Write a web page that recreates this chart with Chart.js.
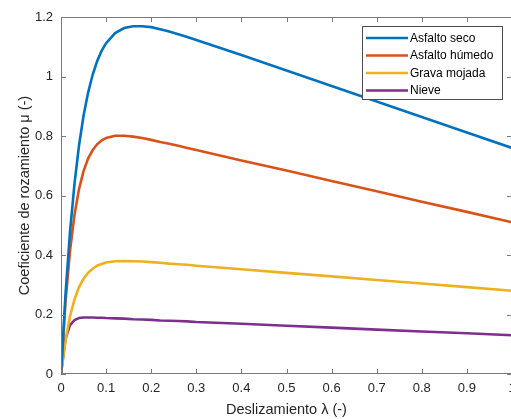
<!DOCTYPE html>
<html>
<head>
<meta charset="utf-8">
<script src="https://cdn.jsdelivr.net/npm/chart.js@4.4.1/dist/chart.umd.min.js"></script>
<style>
  html, body { margin: 0; padding: 0; background: #fff; overflow: hidden; }
  #chart { display: block; }
</style>
</head>
<body>
<canvas id="chart" width="522" height="419"></canvas>
<script>
// slip ratio (lambda) sample points
const slip = [0, 0.01, 0.02, 0.03, 0.04, 0.05, 0.06, 0.07, 0.08, 0.09, 0.10,
    0.12, 0.14, 0.16, 0.18, 0.20, 0.22, 0.24, 0.26, 0.28, 0.30,
    0.4, 0.5, 0.6, 0.7, 0.8, 0.9, 1.0];

const asfaltoSeco = [0, 0.268, 0.478, 0.641, 0.769, 0.868, 0.945, 1.005, 1.051, 1.086, 1.112,
    1.146, 1.163, 1.169, 1.169, 1.166, 1.159, 1.151, 1.142, 1.133, 1.123,
    1.072, 1.020, 0.968, 0.916, 0.864, 0.812, 0.760];
const asfaltoHumedo = [0, 0.243, 0.414, 0.536, 0.622, 0.682, 0.724, 0.752, 0.772, 0.785, 0.793,
    0.801, 0.801, 0.798, 0.793, 0.787, 0.780, 0.774, 0.767, 0.760, 0.753,
    0.718, 0.684, 0.649, 0.614, 0.579, 0.545, 0.510];
const gravaMojada = [0, 0.113, 0.194, 0.251, 0.292, 0.320, 0.340, 0.354, 0.364, 0.370, 0.375,
    0.379, 0.380, 0.379, 0.378, 0.376, 0.374, 0.371, 0.369, 0.367, 0.364,
    0.352, 0.340, 0.328, 0.316, 0.304, 0.292, 0.280];
const nieve = [0, 0.118, 0.164, 0.181, 0.188, 0.190, 0.190, 0.190, 0.189, 0.189, 0.188,
    0.187, 0.186, 0.184, 0.183, 0.182, 0.180, 0.179, 0.178, 0.177, 0.175,
    0.169, 0.162, 0.156, 0.149, 0.143, 0.137, 0.130];

const seriesLabels = ["Asfalto seco", "Asfalto húmedo", "Grava mojada", "Nieve"];
const seriesColors = ["#0072BD", "#D95319", "#EDB120", "#7E2F8E"];
const seriesValues = [asfaltoSeco, asfaltoHumedo, gravaMojada, nieve];

const FONT = "'Liberation Sans', Arial, Helvetica, sans-serif";
const AXIS_COLOR = "#7a7a7a";
const TEXT_COLOR = "#262626";

function toPoints(values) {
    return values.map((v, i) => ({x: slip[i], y: v}));
}

// matlab-like tick text: 1 instead of 1.0
function tickText(value) {
    return String(parseFloat(value.toFixed(2)));
}

// MATLAB style box with inward ticks on all four sides
const boxPlugin = {
    id: 'matlabBox',
    afterDatasetsDraw(chart) {
        const ctx = chart.ctx;
        const a = chart.chartArea;
        const xs = chart.scales.x;
        const ys = chart.scales.y;
        const len = 5;
        ctx.save();
        ctx.strokeStyle = AXIS_COLOR;
        ctx.lineWidth = 1;
        ctx.beginPath();
        ctx.rect(a.left + 0.5, a.top + 0.5, a.right - a.left - 1, a.bottom - a.top - 1);
        xs.ticks.forEach(t => {
            const px = Math.round(xs.getPixelForValue(t.value)) + 0.5;
            ctx.moveTo(px, a.bottom);
            ctx.lineTo(px, a.bottom - len);
            ctx.moveTo(px, a.top);
            ctx.lineTo(px, a.top + len);
        });
        ys.ticks.forEach(t => {
            const py = Math.round(ys.getPixelForValue(t.value)) + 0.5;
            ctx.moveTo(a.left, py);
            ctx.lineTo(a.left + len, py);
            ctx.moveTo(a.right, py);
            ctx.lineTo(a.right - len, py);
        });
        ctx.stroke();
        ctx.restore();
    }
};

// legend box inside the plot, upper right
const legendPlugin = {
    id: 'matlabLegend',
    afterDraw(chart) {
        const ctx = chart.ctx;
        const left = 362, top = 26, width = 140, height = 73;
        const rowH = 17.5;
        ctx.save();
        ctx.fillStyle = "#fff";
        ctx.fillRect(left, top, width, height);
        ctx.strokeStyle = "#4d4d4d";
        ctx.lineWidth = 1;
        ctx.strokeRect(left + 0.5, top + 0.5, width, height);
        ctx.font = "12px " + FONT;
        ctx.textBaseline = "middle";
        chart.data.datasets.forEach((ds, i) => {
            const y = top + 12 + i * rowH;
            ctx.strokeStyle = ds.borderColor;
            ctx.lineWidth = 2.5;
            ctx.beginPath();
            ctx.moveTo(left + 4, y);
            ctx.lineTo(left + 46, y);
            ctx.stroke();
            ctx.fillStyle = "#000";
            ctx.fillText(ds.label, left + 48, y + 0.5);
        });
        ctx.restore();
    }
};

const datasets = seriesValues.map((vals, i) => ({
    label: seriesLabels[i],
    data: toPoints(vals),
    borderColor: seriesColors[i],
    backgroundColor: seriesColors[i],
    borderWidth: 2.6,
    pointRadius: 0,
    tension: 0,
    fill: false
}));

const chart = new Chart(document.getElementById('chart').getContext('2d'), {
    type: 'line',
    data: {datasets: datasets},
    options: {
        responsive: false,
        animation: false,
        layout: {padding: {top: 17, right: 10, left: 0, bottom: 0}},
        plugins: {
            legend: {display: false},
            tooltip: {enabled: false}
        },
        scales: {
            x: {
                type: 'linear',
                min: 0,
                max: 1,
                ticks: {
                    stepSize: 0.1,
                    padding: 7,
                    color: TEXT_COLOR,
                    font: {family: FONT, size: 13},
                    maxRotation: 0,
                    callback: tickText
                },
                grid: {display: false, drawTicks: false},
                border: {display: false},
                title: {
                    display: true,
                    text: 'Deslizamiento λ (-)',
                    color: TEXT_COLOR,
                    font: {family: FONT, size: 14.5},
                    padding: {top: 0, bottom: 0}
                },
                afterFit(scale) {
                    scale.height = 45;
                    scale.paddingLeft = 0;
                    scale.paddingRight = 0;
                }
            },
            y: {
                type: 'linear',
                min: 0,
                max: 1.2,
                ticks: {
                    stepSize: 0.2,
                    padding: 8,
                    color: TEXT_COLOR,
                    font: {family: FONT, size: 13},
                    callback: tickText
                },
                grid: {display: false, drawTicks: false},
                border: {display: false},
                title: {
                    display: true,
                    text: 'Coeficiente de rozamiento μ (-)',
                    color: TEXT_COLOR,
                    font: {family: FONT, size: 14.5},
                    padding: {top: 16, bottom: 0}
                },
                afterFit(scale) {
                    scale.width = 61;
                    scale.paddingTop = 0;
                    scale.paddingBottom = 0;
                }
            }
        }
    },
    plugins: [boxPlugin, legendPlugin]
});
</script>
</body>
</html>
